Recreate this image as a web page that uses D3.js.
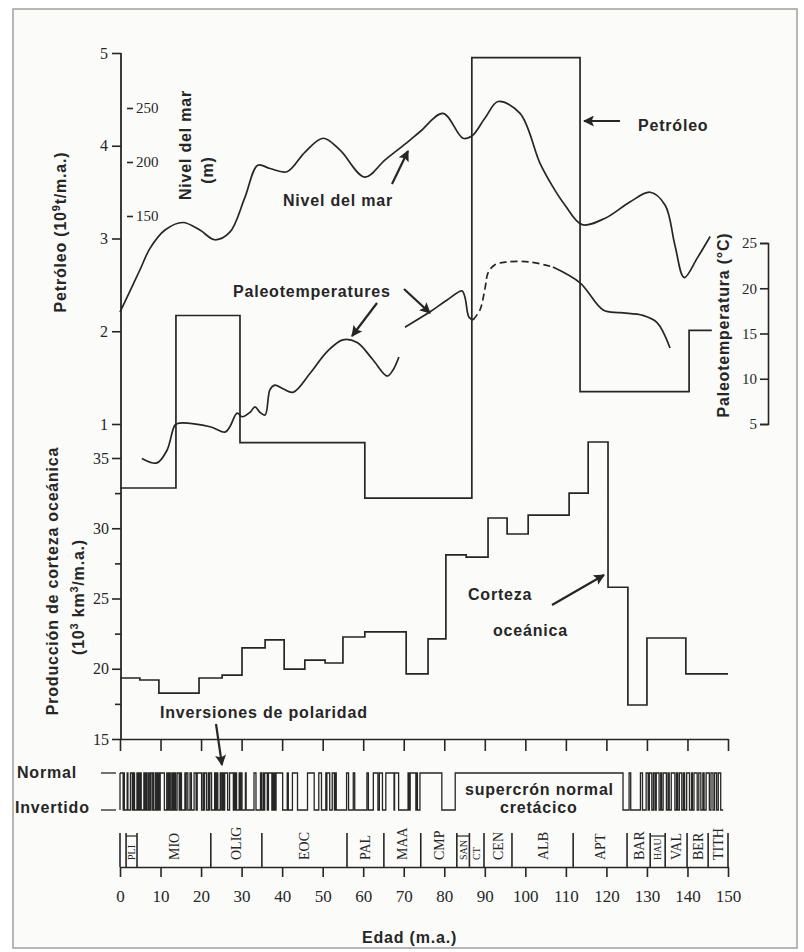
<!DOCTYPE html>
<html><head><meta charset="utf-8">
<script src="https://cdn.jsdelivr.net/npm/d3@7"></script>
<style>
body{margin:0;background:#fff;}
svg{display:block;}
.lbl{font-family:"Liberation Sans",Arial,sans-serif;font-weight:bold;font-size:16px;fill:#262626;letter-spacing:0.8px;}
.num{font-family:"Liberation Serif","Times New Roman",serif;fill:#262626;}
</style></head><body>
<svg id="chart" width="804" height="952"></svg>
<script>
// ---------------- DATA ----------------
const ageTicks = [0,10,20,30,40,50,60,70,80,90,100,110,120,130,140,150];
const petroleumTicks = [1,2,3,4,5];
const seaLevelTicks = [150,200,250];
const crustTicks = [15,20,25,30,35];
const crustMinorTicks = [17.5,22.5,27.5,32.5];
const tempTicks = [5,10,15,20,25];

// Petróleo (10^9 t/m.a.) step function
const petroleumBreaks = [0,13.8,29.6,60.4,86.8,113.5,140.4,146];
const petroleumValues = [0.31,2.17,0.80,0.20,4.95,1.35,2.01];

// Producción de corteza oceánica (10^3 km^3/m.a.) step function
const crustBreaks = [0,4.9,9.6,19.5,25.2,30.1,35.8,40.5,45.6,50.6,55.0,60.4,70.6,76.0,80.4,85.4,90.8,95.5,100.7,110.8,115.5,120.4,125.3,130.0,139.6,150];
const crustValues = [19.34,19.2,18.27,19.34,19.55,21.48,22.05,19.98,20.62,20.41,22.26,22.62,19.63,22.12,28.1,27.95,30.73,29.59,30.94,32.5,36.14,25.8,17.42,22.19,19.63];

// Nivel del mar (m)
const seaAge   = [0,4.9,7.4,11.1,15.5,19.7,23.4,27.1,30.8,34.0,37.0,41.2,45.6,50.1,54.3,60.4,65.4,70.8,74.0,79.7,84.6,86.8,90.1,93.3,98.7,103.6,106.8,109.8,114.0,119.7,125.8,130.8,134.5,136.9,139.2,142.4,145.6];
const seaLevel = [61,100,120,137,144,137,128,135,167,197,194,191,209,222,211,186,202,218,228,245,222,224,241,256,245,199,177,160,142,148,163,172,160,123,93,111,131];

// Paleotemperaturas (°C), four segments
const temp1Age = [5.4,9.1,11.6,13.6,14.8,22.2,25.9,27.1,28.9,30.1,32.1,33.3,34.5,35.8,37.0,38.2,40.2,42.7,46.9,51.1,55.0,58.5,62.4,65.9,67.4,68.8];
const temp1Val = [1.2,0.7,2.1,4.9,5.1,4.7,4.1,4.7,6.2,5.8,6.3,6.9,6.3,6.0,8.8,9.3,8.9,8.5,10.6,13.0,14.3,14.0,12.1,10.3,11.0,12.4];
const temp2Age = [70.3,76.5,80.7,84.4,85.1,86.1,87.1];
const temp2Val = [15.7,17.4,18.7,19.7,19.0,16.8,16.5];
const temp3Age = [87.1,88.8,90.1,90.8,92.5,95.5,101.2,106.8];   // dashed
const temp3Val = [16.5,17.6,20.1,21.7,22.6,22.9,22.9,22.35];
const temp4Age = [106.8,113.5,119.2,123.4,129.0,132.5,135.7];
const temp4Val = [22.35,20.6,17.6,17.3,17.0,16.2,13.4];

// Polaridad: intervalos normales (m.a.)
const normalIntervals = [
 [0,0.78],[0.99,1.07],[1.77,1.95],[2.58,3.04],[3.11,3.22],[3.33,3.58],[4.18,4.29],[4.48,4.62],[4.80,4.89],[4.98,5.23],
 [5.89,6.14],[6.27,6.57],[6.94,7.09],[7.43,7.56],[7.65,8.07],[8.23,8.26],[8.70,9.03],[9.31,9.37],[9.64,9.72],[9.74,9.88],
 [9.92,10.95],[11.53,11.61],[11.94,12.08],[12.18,12.40],[12.78,12.82],[12.99,13.02],[13.14,13.30],[13.51,13.70],[14.08,14.61],[14.80,14.89],
 [15.03,15.16],[16.01,16.29],[16.33,16.73],[17.28,17.62],[18.28,18.78],[19.05,20.13],[20.52,20.73],[20.80,21.32],[21.77,21.86],[22.15,22.59],
 [23.35,23.54],[23.68,23.80],[24.00,24.12],[24.73,24.78],[24.84,25.18],[25.50,25.65],[25.82,26.55],[27.03,27.97],[28.28,28.51],[28.58,28.75],
 [29.40,29.66],[29.77,30.10],[30.94,31.12],[33.06,33.55],[34.66,34.94],[35.34,35.53],[35.69,36.34],[36.62,37.47],[37.60,37.68],[37.78,38.03],
 [38.11,38.43],[38.50,40.13],[41.26,41.52],[42.54,43.79],[46.26,47.91],[49.04,49.71],[50.78,50.94],[51.04,51.74],[52.36,52.90],[53.04,53.35],
 [55.90,56.39],[57.55,57.91],[60.92,61.28],[62.50,63.63],[63.98,64.75],[65.58,67.61],[67.74,68.74],[71.07,71.34],[71.59,73.00],[73.29,73.37],
 [74.0,79.4],[82.7,124.1],
 [125.6,126.0],[128.4,128.9],[129.8,130.3],[130.6,131.2],[131.6,132.0],[132.3,133.0],[133.4,133.6],[134.0,134.8],[135.2,135.5],[136.0,136.9],
 [137.3,137.6],[138.0,138.6],[139.0,139.3],[139.8,140.5],[141.0,141.2],[141.6,142.4],[142.8,143.3],[143.8,144.1],[144.6,145.4],[145.8,146.3],
 [146.7,147.2],[147.6,148.2]
];
const polarityEnd = 148.8;

// Pisos / épocas
const stageBounds = [0,1.5,4.2,22.4,35.0,56.0,65.1,74.2,83.1,86.2,89.8,96.7,111.8,125.1,130.8,134.5,139.9,145.1,150];
const stageNames  = ["","PLI","MIO","OLIG","EOC","PAL","MAA","CMP","SAN","CT","CEN","ALB","APT","BAR","HAU","VAL","BER","TITH"];

// ---------------- CHART ----------------
const W=804,H=952, ink="#262626";
const svg=d3.select("#chart");
svg.append("rect").attr("width",W).attr("height",H).attr("fill","#fff");
svg.append("rect").attr("x",13).attr("y",9).attr("width",784).attr("height",939)
   .attr("fill","#fbfbf9").attr("stroke","#a0a0a0").attr("stroke-width",1.5);

const x=d3.scaleLinear().domain([0,150]).range([120,728]);
const yPet=d3.scaleLinear().domain([1,5]).range([424,53]);
const ySea=d3.scaleLinear().domain([150,250]).range([216,108]);
const yCrust=d3.scaleLinear().domain([15,35]).range([739,458]);
const yTemp=d3.scaleLinear().domain([5,25]).range([424,243]);
const yPol=d3.scaleLinear().domain([0,1]).range([810,773]);

const defs=svg.append("defs");
defs.append("marker").attr("id","ah").attr("viewBox","0 0 10 10").attr("refX",9).attr("refY",5)
  .attr("markerWidth",5).attr("markerHeight",5).attr("orient","auto-start-reverse")
  .append("path").attr("d","M0,0L10,5L0,10L2,5Z").attr("fill",ink);

function styleAxis(g,size){
  g.selectAll("text").attr("class","num").style("font-size",size+"px").attr("fill",ink);
  g.selectAll("line").attr("stroke",ink).attr("stroke-width",1.6);
  g.selectAll("path").attr("stroke",ink).attr("stroke-width",1.6);
}

// left main axis line
svg.append("line").attr("x1",121).attr("x2",121).attr("y1",yPet(5)).attr("y2",yCrust(15))
   .attr("stroke",ink).attr("stroke-width",1.8);

// petroleum axis
const gP=svg.append("g").attr("transform","translate(121,0)")
  .call(d3.axisLeft(yPet).tickValues(petroleumTicks).tickSize(9).tickPadding(4).tickFormat(d3.format("d")));
gP.select(".domain").remove(); styleAxis(gP,16);

// sea level axis
const gS=svg.append("g").attr("transform","translate(127,0)")
  .call(d3.axisRight(ySea).tickValues(seaLevelTicks).tickSize(6).tickPadding(3));
gS.select(".domain").remove(); styleAxis(gS,15);

// crust axis
const gC=svg.append("g").attr("transform","translate(121,0)")
  .call(d3.axisLeft(yCrust).tickValues(crustTicks).tickSize(9).tickPadding(3));
gC.select(".domain").remove(); styleAxis(gC,16);
const gCm=svg.append("g").attr("transform","translate(121,0)")
  .call(d3.axisLeft(yCrust).tickValues(crustMinorTicks).tickSize(6).tickFormat(""));
gCm.select(".domain").remove(); styleAxis(gCm,16);

// temperature axis (right)
const gT=svg.append("g").attr("transform","translate(768,0)")
  .call(d3.axisLeft(yTemp).tickValues(tempTicks).tickSize(8).tickSizeOuter(8).tickPadding(3));
styleAxis(gT,15);

// upper age axis (crust baseline)
const gX1=svg.append("g").attr("transform",`translate(0,${yCrust(15)})`)
  .call(d3.axisBottom(x).tickValues(ageTicks).tickSize(12).tickSizeOuter(0).tickFormat(""));
styleAxis(gX1,16);

// bottom age axis
const gX2=svg.append("g").attr("transform","translate(0,867)")
  .call(d3.axisBottom(x).tickValues(ageTicks).tickSize(10).tickSizeOuter(0).tickPadding(13));
styleAxis(gX2,17);

// stages
const gSt=svg.append("g");
stageBounds.forEach(b=>{
  gSt.append("line").attr("x1",x(b)).attr("x2",x(b)).attr("y1",833).attr("y2",867)
    .attr("stroke",ink).attr("stroke-width",1.6);
});
stageNames.forEach((n,i)=>{
  if(!n) return;
  const a=stageBounds[i], b=stageBounds[i+1], w=b-a;
  const fs = w<4 ? 10 : 14;
  gSt.append("text").attr("class","num").style("font-size",fs+"px")
    .attr("transform",`translate(${x((a+b)/2)+fs*0.36},860) rotate(-90)`)
    .text(n);
  if(w<4 && n!=="CT"){
    gSt.append("line").attr("x1",x(a)).attr("x2",x(b)).attr("y1",836).attr("y2",836).attr("stroke",ink).attr("stroke-width",1.2);
  }
});

// step helper
function stepPoints(breaks,vals){
  const pts=vals.map((v,i)=>[breaks[i],v]);
  pts.push([breaks[breaks.length-1],vals[vals.length-1]]);
  return pts;
}
// petroleum
svg.append("path").datum(stepPoints(petroleumBreaks,petroleumValues))
  .attr("d",d3.line().x(d=>x(d[0])).y(d=>yPet(d[1])).curve(d3.curveStepAfter))
  .attr("fill","none").attr("stroke",ink).attr("stroke-width",1.7);
// crust
svg.append("path").datum(stepPoints(crustBreaks,crustValues))
  .attr("d",d3.line().x(d=>x(d[0])).y(d=>yCrust(d[1])).curve(d3.curveStepAfter))
  .attr("fill","none").attr("stroke",ink).attr("stroke-width",1.7);

// sea level
svg.append("path").datum(d3.zip(seaAge,seaLevel))
  .attr("d",d3.line().x(d=>x(d[0])).y(d=>ySea(d[1])).curve(d3.curveCatmullRom.alpha(0.5)))
  .attr("fill","none").attr("stroke",ink).attr("stroke-width",1.7);

// paleotemperatures
const tLine=d3.line().x(d=>x(d[0])).y(d=>yTemp(d[1])).curve(d3.curveCatmullRom.alpha(0.5));
[[temp1Age,temp1Val,null],[temp2Age,temp2Val,null],[temp3Age,temp3Val,"7,4"],[temp4Age,temp4Val,null]].forEach(s=>{
  svg.append("path").datum(d3.zip(s[0],s[1])).attr("d",tLine)
    .attr("fill","none").attr("stroke",ink).attr("stroke-width",1.7)
    .attr("stroke-dasharray",s[2]);
});

// polarity square wave
const polPts=[[0,1]];
normalIntervals.forEach(([s,e])=>{ if(s>0) polPts.push([s,1]); polPts.push([e,0]); });
polPts.push([polarityEnd,0]);
svg.append("path").datum(polPts)
  .attr("d",d3.line().x(d=>x(d[0])).y(d=>yPol(d[1])).curve(d3.curveStepAfter))
  .attr("fill","none").attr("stroke",ink).attr("stroke-width",1.3);
svg.append("line").attr("x1",x(0)).attr("x2",x(0)).attr("y1",yPol(1)).attr("y2",yPol(0)).attr("stroke",ink).attr("stroke-width",1.3);

// ---------------- TEXT ----------------
function lbl(t,xx,yy){return svg.append("text").attr("class","lbl").attr("x",xx).attr("y",yy).text(t);}
function rlbl(t,cx,cy){return svg.append("text").attr("class","lbl").attr("text-anchor","middle").attr("dy","0.35em")
  .attr("transform",`translate(${cx},${cy}) rotate(-90)`).text(t);}

// axis titles
const pt=svg.append("text").attr("class","lbl").attr("text-anchor","middle").attr("dy","0.35em")
  .attr("transform","translate(60,232) rotate(-90)");
pt.append("tspan").text("Petróleo (10");
pt.append("tspan").attr("dy","-6").style("font-size","11px").text("9");
pt.append("tspan").attr("dy","6").text("t/m.a.)");
rlbl("Nivel del mar",185,145);
rlbl("(m)",207,170);
rlbl("Producción de corteza oceánica",52,581);
const ct=svg.append("text").attr("class","lbl").attr("text-anchor","middle").attr("dy","0.35em")
  .attr("transform","translate(78,597) rotate(-90)");
ct.append("tspan").text("(10");
ct.append("tspan").attr("dy","-6").style("font-size","11px").text("3");
ct.append("tspan").attr("dy","6").text(" km");
ct.append("tspan").attr("dy","-6").style("font-size","11px").text("3");
ct.append("tspan").attr("dy","6").text("/m.a.)");
rlbl("Paleotemperatura (°C)",723,325);

// annotations
lbl("Nivel del mar",283,206);
lbl("Petróleo",638,131);
lbl("Paleotemperatures",233,297);
lbl("Corteza",468,600);
lbl("oceánica",493,636);
lbl("Inversiones de polaridad",160,718);
lbl("supercrón normal",465,795);
lbl("cretácico",500,813);
lbl("Normal",17,778);
lbl("Invertido",15,813);
lbl("Edad (m.a.)",362,943);

function arrow(x1,y1,x2,y2){
  svg.append("line").attr("x1",x1).attr("y1",y1).attr("x2",x2).attr("y2",y2)
   .attr("stroke",ink).attr("stroke-width",2.2).attr("marker-end","url(#ah)");
}
arrow(392,184,408,151);
arrow(620,121,584,121);
arrow(377,303,352,336);
arrow(404,289,430,313);
arrow(552,605,604,575);
arrow(216,724,222,765);
// Normal / Invertido pointers
svg.append("line").attr("x1",101).attr("x2",116).attr("y1",773).attr("y2",773).attr("stroke",ink).attr("stroke-width",1.3);
svg.append("line").attr("x1",101).attr("x2",116).attr("y1",810).attr("y2",810).attr("stroke",ink).attr("stroke-width",1.3);
</script>
</body></html>
